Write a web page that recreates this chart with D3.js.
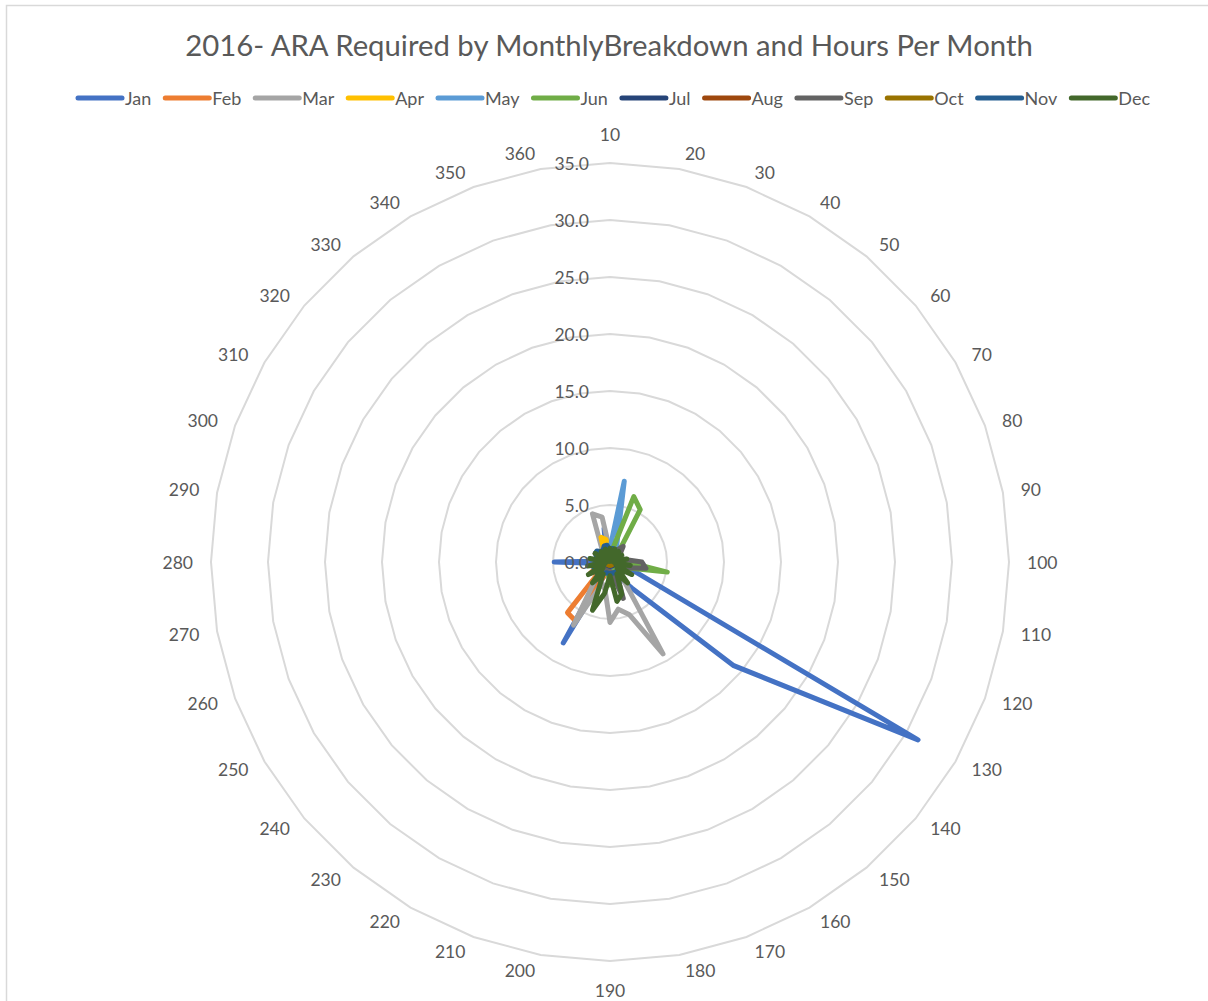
<!DOCTYPE html>
<html>
<head>
<meta charset="utf-8">
<script src="https://cdn.jsdelivr.net/npm/d3@7"></script>
<style>
  body { margin: 0; background: #fff; }
  text { font-family: Lato, "Open Sans", sans-serif; fill: #595959; }
</style>
</head>
<body>
<svg id="chart" width="1208" height="1001"></svg>
<script>
var title = "2016- ARA Required by MonthlyBreakdown and Hours Per Month";

var categories = d3.range(10, 361, 10).map(String);

var months = ["Jan", "Feb", "Mar", "Apr", "May", "Jun", "Jul", "Aug", "Sep", "Oct", "Nov", "Dec"];

var colors = ["#4472C4", "#ED7D31", "#A5A5A5", "#FFC000", "#5B9BD5", "#70AD47",
              "#264478", "#9E480E", "#636363", "#997300", "#255E91", "#43682B"];

var valueTicks = [0, 5, 10, 15, 20, 25, 30, 35];

// hours per category, one array per month
var jan = [0.5, 0.3, 0.3, 0.5, 0.8, 1.0, 1.0, 1.0, 1.2, 1.5, 1.8, 2.1, 31.2, 14.1, 3.0, 1.5, 1.0, 0.8,
           0.8, 1.0, 1.0, 8.2, 1.0, 0.8, 0.5, 0.5, 0.8, 4.9, 0.5, 0.3, 0.3, 0.3, 0.3, 0.5, 1.0, 3.0];
var feb = [0.5, 0.3, 0.3, 0.3, 0.3, 0.3, 0.5, 0.5, 0.5, 0.5, 0.5, 0.5, 0.5, 0.8, 0.8, 0.8, 0.8, 0.8,
           0.8, 0.8, 1.0, 6.0, 5.8, 1.0, 2.0, 1.2, 1.0, 1.2, 1.0, 1.0, 1.5, 1.2, 1.0, 0.8, 0.8, 0.5];
var mar = [1.0, 0.5, 0.5, 0.5, 0.5, 0.5, 0.5, 0.5, 0.5, 0.8, 0.8, 1.0, 1.2, 1.5, 1.5, 9.3, 4.9, 4.2,
           5.3, 2.5, 2.0, 6.4, 2.0, 1.0, 0.8, 0.5, 0.5, 0.5, 0.5, 0.5, 0.5, 0.5, 0.5, 1.5, 4.5, 4.0];
var apr = [0.5, 0.3, 0.3, 0.3, 0.3, 0.3, 0.3, 0.3, 0.3, 0.3, 0.3, 0.3, 0.3, 0.3, 0.3, 0.3, 0.3, 0.3,
           0.3, 0.3, 0.5, 0.5, 0.8, 0.8, 1.0, 1.5, 1.5, 1.2, 1.0, 0.8, 0.8, 0.8, 0.8, 1.0, 2.3, 2.0];
var may = [1.2, 7.2, 1.8, 1.0, 0.8, 0.5, 0.5, 0.5, 0.5, 0.5, 0.5, 0.5, 0.5, 0.5, 0.5, 0.5, 0.5, 0.5,
           0.5, 0.5, 0.5, 0.5, 0.5, 0.5, 0.5, 0.5, 0.5, 0.5, 0.5, 0.5, 0.5, 0.5, 0.5, 0.5, 0.8, 1.0];
var jun = [0.8, 1.0, 6.1, 5.3, 1.2, 0.8, 0.8, 0.8, 1.0, 1.5, 5.1, 1.5, 1.0, 0.8, 0.8, 0.8, 1.2, 1.9,
           2.0, 1.0, 0.8, 0.8, 0.8, 0.8, 0.8, 0.8, 1.0, 1.0, 0.8, 0.8, 0.8, 0.8, 0.8, 0.8, 0.8, 0.8];
var jul = [0.4, 0.3, 0.4, 0.3, 0.4, 0.3, 0.4, 0.3, 0.4, 0.3, 0.4, 0.3, 0.4, 0.3, 0.4, 0.3, 0.4, 0.3,
           0.4, 0.3, 0.4, 0.3, 0.4, 0.3, 0.4, 0.3, 0.4, 0.3, 0.4, 0.3, 0.4, 0.3, 0.4, 0.3, 0.4, 0.3];
var aug = [0.2, 0.2, 0.2, 0.2, 0.2, 0.2, 0.2, 0.2, 0.2, 0.2, 0.2, 0.2, 0.2, 0.2, 0.2, 0.2, 0.2, 0.2,
           0.2, 0.2, 0.2, 0.2, 0.2, 0.2, 0.2, 0.2, 0.2, 0.2, 0.2, 0.2, 0.2, 0.2, 0.2, 0.2, 0.2, 0.2];
var sep = [0.8, 0.8, 1.0, 1.2, 1.8, 1.2, 1.0, 1.0, 1.3, 2.8, 3.2, 1.5, 1.2, 1.0, 1.0, 1.2, 3.4, 1.0,
           0.8, 0.8, 0.8, 0.8, 0.8, 0.8, 0.8, 0.8, 0.8, 0.8, 0.8, 0.8, 0.8, 0.8, 0.8, 0.8, 0.8, 0.8];
var oct = [0.3, 0.3, 0.3, 0.3, 0.3, 0.3, 0.3, 0.3, 0.3, 0.3, 0.3, 0.3, 0.3, 0.3, 0.3, 0.3, 0.3, 0.3,
           0.3, 0.3, 0.3, 0.3, 0.3, 0.3, 0.3, 0.3, 0.3, 0.3, 0.3, 0.3, 0.3, 0.3, 0.3, 0.3, 0.3, 0.3];
var nov = [1.0, 1.2, 1.2, 1.0, 1.0, 1.0, 1.0, 1.0, 1.0, 1.0, 1.0, 1.0, 1.0, 1.0, 1.0, 1.0, 1.0, 1.0,
           1.0, 1.0, 1.0, 1.2, 1.5, 1.5, 1.5, 1.5, 1.5, 1.2, 1.2, 1.2, 1.5, 1.5, 1.2, 1.2, 1.5, 1.5];
var dec = [1.2, 0.1, 1.2, 0.1, 1.2, 0.1, 1.2, 0.2, 1.5, 0.3, 1.8, 0.5, 2.2, 0.8, 2.4, 1.2, 3.0, 3.5,
           1.2, 2.8, 4.5, 1.2, 2.4, 0.8, 2.2, 0.5, 2.0, 0.3, 1.8, 0.2, 1.5, 0.1, 1.2, 0.1, 1.2, 0.1];

var series = [jan, feb, mar, apr, may, jun, jul, aug, sep, oct, nov, dec];

var svg = d3.select("#chart"),
    cx = 610,
    cy = 562,
    radius = 399;

// chart area border
svg.append("rect")
    .attr("x", 6.5).attr("y", 5.5)
    .attr("width", 1220).attr("height", 1010)
    .attr("fill", "none")
    .attr("stroke", "#D9D9D9")
    .attr("stroke-width", 1.5);

var r = d3.scaleLinear().domain([0, 35]).range([0, radius]);
var angle = d3.scalePoint().domain(categories).range([0, 2 * Math.PI * 35 / 36]);

function pos(cat, v) {
  var a = angle(cat);
  return [cx + r(v) * Math.sin(a), cy - r(v) * Math.cos(a)];
}

// title, sized to span the same width as the reference
var t = svg.append("text")
    .attr("x", cx - 1)
    .attr("y", 44)
    .attr("text-anchor", "middle")
    .attr("dominant-baseline", "central")
    .style("font-size", "26px")
    .text(title);
var tw = t.node().getComputedTextLength();
t.style("font-size", (26 * 848 / tw) + "px");

// grid rings
var g = svg.append("g");
g.selectAll("polygon.ring")
    .data(valueTicks.slice(1))
  .enter().append("polygon")
    .attr("class", "ring")
    .attr("points", function(v) {
      return categories.map(function(c) { return pos(c, v).join(","); }).join(" ");
    })
    .attr("fill", "none")
    .attr("stroke", "#D9D9D9")
    .attr("stroke-width", 2);

// category labels: pushed out from the outer vertex, sideways by half their width
g.selectAll("text.cat")
    .data(categories)
  .enter().append("text")
    .attr("class", "cat")
    .attr("text-anchor", "middle")
    .attr("dominant-baseline", "central")
    .style("font-size", "17.5px")
    .text(function(c) { return c; })
    .each(function(c) {
      var a = angle(c),
          s = Math.sin(a), k = Math.cos(a),
          w = this.getComputedTextLength(),
          p = pos(c, 35),
          onAxis = Math.abs(s) < 1e-6,
          sx = onAxis ? 0 : (s > 0 ? 1 : -1);
      var dx = s * 15 + sx * (w / 2 + 3),
          dy = -k * 16 - (onAxis ? k * 13 : 0);
      d3.select(this).attr("x", p[0] + dx).attr("y", p[1] + dy);
    });

// series
var line = d3.lineRadial()
    .angle(function(d, i) { return angle(categories[i]); })
    .radius(function(d) { return r(d); })
    .curve(d3.curveLinearClosed);

svg.append("g")
    .attr("transform", "translate(" + cx + "," + cy + ")")
  .selectAll("path")
    .data(series)
  .enter().append("path")
    .attr("d", line)
    .attr("fill", "none")
    .attr("stroke", function(d, i) { return colors[i]; })
    .attr("stroke-width", 5)
    .attr("stroke-linejoin", "round");

// value axis labels
svg.append("g").selectAll("text")
    .data(valueTicks)
  .enter().append("text")
    .attr("x", cx - 21)
    .attr("y", function(v) { return cy - r(v); })
    .attr("text-anchor", "end")
    .attr("dominant-baseline", "central")
    .style("font-size", "17.5px")
    .text(d3.format(".1f"));

// legend, spread to the reference width (76 .. 1150)
var legend = svg.append("g").attr("transform", "translate(76,98)");
var items = [], widths = [];
months.forEach(function(m, i) {
  var item = legend.append("g");
  item.append("line")
      .attr("x1", 2).attr("x2", 46)
      .attr("stroke", colors[i])
      .attr("stroke-width", 5)
      .attr("stroke-linecap", "round");
  var lt = item.append("text")
      .attr("x", 49)
      .attr("dominant-baseline", "central")
      .style("font-size", "18px")
      .text(m);
  items.push(item);
  widths.push(49 + lt.node().getComputedTextLength());
});
var gap = (1074 - d3.sum(widths)) / (months.length - 1);
var x = 0;
items.forEach(function(item, i) {
  item.attr("transform", "translate(" + x + ",0)");
  x += widths[i] + gap;
});
</script>
</body>
</html>
